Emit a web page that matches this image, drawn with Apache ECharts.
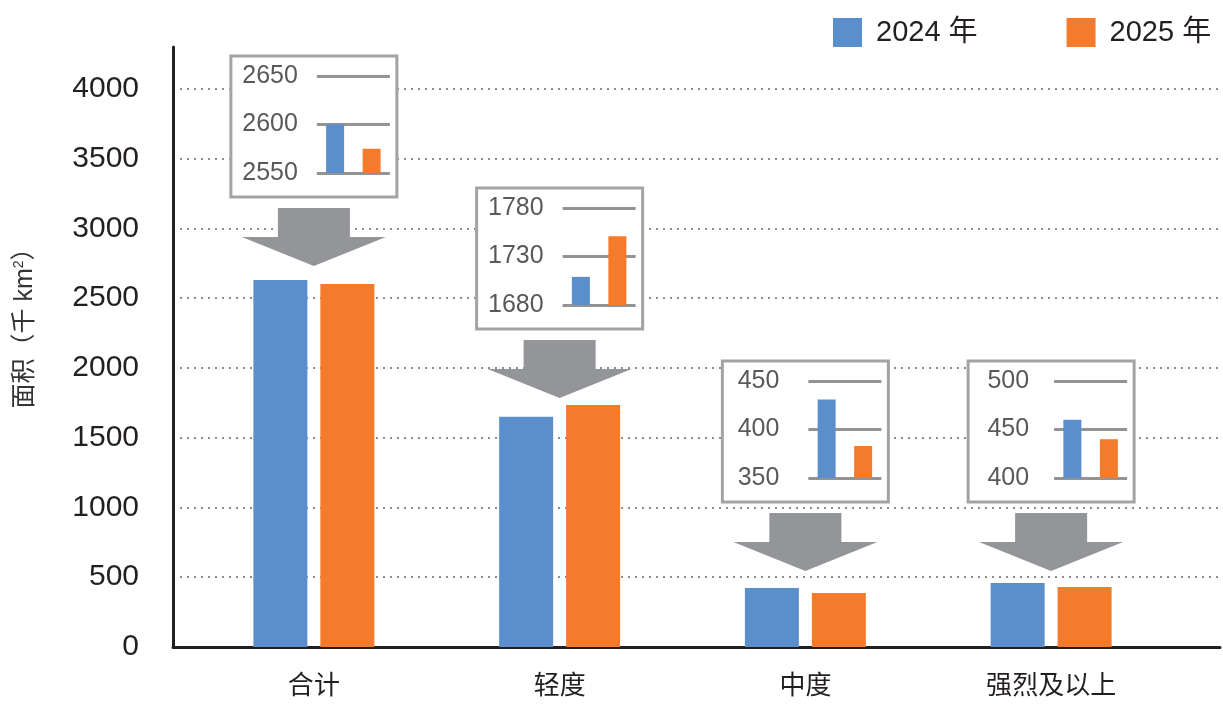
<!DOCTYPE html>
<html><head><meta charset="utf-8">
<script src="https://cdn.jsdelivr.net/npm/echarts@6/dist/echarts.min.js"></script>
<style>html,body{margin:0;padding:0;background:#fff}#c{width:1223px;height:704px}</style>
</head><body><div id="c"></div>
<script>
// ---- data ----
const categories = ['合计', '轻度', '中度', '强烈及以上'];
const seriesNames = ['2024 年', '2025 年'];
const values2024 = [2630, 1650, 423, 459];
const values2025 = [2602, 1735, 387, 430];
const yTickMin = 0, yTickMax = 4300, yTickStep = 500;
// zoomed inset panels
const insetTicks = [[2550, 2600, 2650], [1680, 1730, 1780], [350, 400, 450], [400, 450, 500]];
const inset2024 = [2600, 1709, 431, 460];
const inset2025 = [2575, 1751, 383, 440];

// ---- layout / style ----
const FONT = "'Liberation Sans', 'Noto Sans CJK SC', sans-serif";
const BLUE = '#5b8fcc', ORANGE = '#f47b2c', DARK = '#231f20', GREY = '#939598';
const barsLeft = 191, barsWidth = 983;
const catW = barsWidth / categories.length;
const centers = categories.map((c, i) => barsLeft + (i + 0.5) * catW);
const boxTop = [56, 188, 361, 361];
const labelMargin = [19, 19, 29, 25];
const boxW = 166, boxH = 141;
const plain = v => String(v);

const grids = [
  { left: 173, right: 3, top: 47, bottom: 57 },
  { left: barsLeft, width: barsWidth, top: 47, bottom: 57 }
];
const xAxes = [
  { gridIndex: 0, type: 'value', min: 0, max: 1, axisLine: { show: true, lineStyle: { color: DARK, width: 3 } }, axisTick: { show: false }, axisLabel: { show: false }, splitLine: { show: false } },
  { gridIndex: 1, type: 'category', data: categories, axisLine: { show: false }, axisTick: { show: false },
    axisLabel: { fontSize: 26, color: DARK, fontFamily: FONT, margin: 27 } }
];
const yAxes = [
  { gridIndex: 0, type: 'value', min: yTickMin, max: yTickMax, interval: yTickStep,
    axisLine: { show: true, lineStyle: { color: DARK, width: 3 } }, axisTick: { show: false },
    axisLabel: { fontSize: 30, color: DARK, fontFamily: FONT, margin: 34, showMaxLabel: false, formatter: plain },
    splitLine: { show: true, showMaxLine: false, lineStyle: { color: '#8c8c8c', width: 2, type: [2, 5] } },
    name: '面积（千 km{sup|2}）', nameLocation: 'middle', nameGap: 135,
    nameTextStyle: { fontSize: 25, color: '#333', fontFamily: FONT, padding: [0, 0, 0, 50],
      rich: { sup: { fontSize: 14, verticalAlign: 'top', padding: [0, 0, 12, 0], color: '#333', fontFamily: FONT } } } },
  { gridIndex: 1, type: 'value', min: yTickMin, max: yTickMax, show: false, splitLine: { show: false } }
];
const series = [
  { name: seriesNames[0], type: 'bar', xAxisIndex: 1, yAxisIndex: 1, data: values2024, barWidth: 54, barGap: '24%', itemStyle: { color: BLUE } },
  { name: seriesNames[1], type: 'bar', xAxisIndex: 1, yAxisIndex: 1, data: values2025, barWidth: 54, barGap: '24%', itemStyle: { color: ORANGE } }
];
const graphics = [];
categories.forEach((c, i) => {
  const cx = centers[i];
  const bl = cx - boxW / 2, bt = boxTop[i];
  graphics.push({ type: 'rect', z: 3, shape: { x: bl, y: bt, width: boxW, height: boxH },
    style: { fill: '#fff', stroke: '#a3a3a3', lineWidth: 3 } });
  const st = bt + 152;
  graphics.push({ type: 'polygon', z: 3, shape: { points: [
    [cx - 36, st], [cx + 36, st], [cx + 36, st + 29], [cx + 72, st + 29], [cx, st + 58], [cx - 72, st + 29], [cx - 36, st + 29]
  ] }, style: { fill: GREY } });
  const gi = grids.length;
  grids.push({ left: bl + 86, top: bt + 20, width: 73, height: 97 });
  xAxes.push({ gridIndex: gi, type: 'category', data: seriesNames, z: 5, axisLine: { show: false }, axisTick: { show: false }, axisLabel: { show: false } });
  const t = insetTicks[i];
  yAxes.push({ gridIndex: gi, type: 'value', z: 5, min: t[0], max: t[2], interval: t[1] - t[0],
    axisLine: { show: false }, axisTick: { show: false },
    axisLabel: { fontSize: 25, color: '#595959', fontFamily: FONT, margin: labelMargin[i], formatter: plain },
    splitLine: { show: true, lineStyle: { color: '#939393', width: 3 } } });
  series.push({ type: 'bar', xAxisIndex: gi, yAxisIndex: gi, z: 6, barWidth: 18,
    data: [{ value: inset2024[i], itemStyle: { color: BLUE } }, { value: inset2025[i], itemStyle: { color: ORANGE } }] });
});

const chart = echarts.init(document.getElementById('c'));
chart.setOption({
  animation: false,
  backgroundColor: '#fff',
  legend: { data: seriesNames, left: 828, top: 13, icon: 'rect', itemWidth: 29, itemHeight: 29, itemGap: 89,
    textStyle: { fontSize: 29, color: DARK, fontFamily: FONT, padding: [0, 0, 0, 9] } },
  grid: grids, xAxis: xAxes, yAxis: yAxes, series: series, graphic: graphics
});
</script></body></html>
